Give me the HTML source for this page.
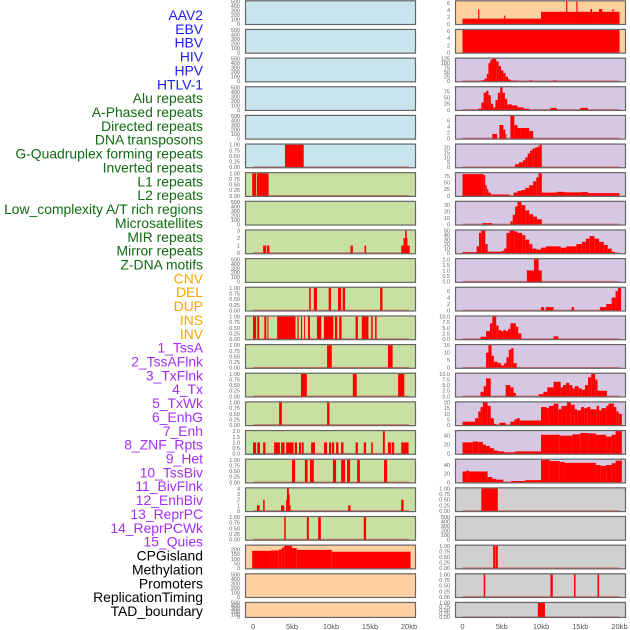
<!DOCTYPE html>
<html><head><meta charset="utf-8"><style>
html,body{margin:0;padding:0;background:#fff;}
svg{display:block;font-family:"Liberation Sans",sans-serif;}
</style></head><body>
<svg id="chart" width="630" height="630" viewBox="0 0 630 630" xmlns="http://www.w3.org/2000/svg">
<g id="labels"></g>
<g id="panels"></g>
<g id="xaxes"></g>
</svg>
<script>
// ---- data ----
const trackNames = ["AAV2","EBV","HBV","HIV","HPV","HTLV-1","Alu repeats","A-Phased repeats","Directed repeats","DNA transposons","G-Quadruplex forming repeats","Inverted repeats","L1 repeats","L2 repeats","Low_complexity A/T rich regions","Microsatellites","MIR repeats","Mirror repeats","Z-DNA motifs","CNV","DEL","DUP","INS","INV","1_TssA","2_TssAFlnk","3_TxFlnk","4_Tx","5_TxWk","6_EnhG","7_Enh","8_ZNF_Rpts","9_Het","10_TssBiv","11_BivFlnk","12_EnhBiv","13_ReprPC","14_ReprPCWk","15_Quies","CPGisland","Methylation","Promoters","ReplicationTiming","TAD_boundary"];
const trackGroups = ["virus","virus","virus","virus","virus","virus","repeat","repeat","repeat","repeat","repeat","repeat","repeat","repeat","repeat","repeat","repeat","repeat","repeat","sv","sv","sv","sv","sv","chrom","chrom","chrom","chrom","chrom","chrom","chrom","chrom","chrom","chrom","chrom","chrom","chrom","chrom","chrom","other","other","other","other","other"];
const xTickValues = [0,5,10,15,20];
const xTickLabels = ["0","5kb","10kb","15kb","20kb"];
const emptyTicks = [0,100,200,300,400,500];
const unitTicks = [0,0.25,0.5,0.75,1];
const unitTickLabels = ["0.00","0.25","0.50","0.75","1.00"];

// segments: [startKb, endKb, value]
const segHTLV = [[4.1,6.5,1]];
const segAlu = [[-0.1,0.4,1],[0.5,2.0,1]];
const segDirected = [[1.3,1.7,1],[1.8,2.1,1],[12.5,12.8,1],[14.3,14.5,1],[19.0,20.1,1],[19.3,19.8,2],[19.5,19.7,3]];
const segGQuad = [[7.2,7.4,1],[7.8,8.2,1],[9.7,10.0,1],[10.9,11.3,1],[11.5,11.8,1],[16.3,16.6,1]];
const segInverted = [[0,0.4,1],[0.55,0.8,1],[1.45,1.7,1],[1.85,1.95,1],[3.1,5.45,1],[5.7,5.85,1],[6.15,6.3,1],[6.55,6.65,1],[7.05,7.3,1],[8.2,8.75,1],[9.1,10.3,1],[10.5,10.8,1],[11.05,11.35,1],[13.15,13.45,1],[13.95,14.8,1],[15.15,15.35,1],[15.65,15.85,1]];
const segL1 = [[9.5,10.1,1],[17.3,17.9,1]];
const segL2 = [[6.15,6.9,1],[12.8,13.3,1],[18.6,19.4,1]];
const segLowAT = [[3.35,3.7,1],[9.5,9.8,1]];
const segMicro = [[0,0.4,1],[0.55,0.9,1],[1.3,1.6,1],[2.7,3.45,1],[3.6,4.05,1],[4.25,5.2,1],[5.35,5.65,1],[5.9,6.15,1],[6.25,6.5,1],[7.45,7.95,1],[9.1,9.5,1],[9.75,10.0,1],[10.1,10.4,1],[10.65,10.95,1],[11.3,11.6,1],[13.15,13.45,1],[14.2,14.5,1],[15.15,15.35,1],[16.65,16.9,2],[17.3,17.7,1],[17.8,18.1,1],[19.0,19.95,1]];
const segMIR = [[5.0,5.4,1],[6.65,7.0,1],[7.3,7.8,1],[10.25,10.65,1],[11.3,11.8,1],[12.05,12.45,1],[13.35,13.7,1],[16.8,17.2,1]];
const segMirror = [[0.5,0.85,1],[1.3,1.5,2],[3.6,4.0,1],[4.25,4.45,2],[4.35,4.6,4],[4.5,4.7,3],[4.7,4.8,1],[12.2,12.5,1],[19.0,19.3,2]];
const segZDNA = [[4.0,4.2,1],[6.9,7.15,1],[8.35,8.7,1],[14.2,14.5,1]];
const segCNV = [[-0.1,2.3,186],[2.3,3.3,190],[3.3,3.7,200],[3.7,4.0,220],[4.0,5.0,240],[5.0,5.6,215],[5.6,10.1,196],[10.1,20.2,176]];
const segINS = [[0,10,1.5],[2.0,2.15,4.2],[5.3,5.45,2.4],[10,20,3.5],[13.2,13.35,6.5],[14.5,14.65,6.5],[16.3,16.5,4.3],[17.4,17.8,4.3],[19.1,19.25,4.3]];
const segINV = [[0,20,6.2]];
const segTssA = [[2.4,2.8,5],[2.8,3.1,15],[3.1,3.3,40],[3.3,3.5,100],[3.5,3.7,115],[3.7,4.3,125],[4.3,4.6,110],[4.6,4.9,85],[4.9,5.2,60],[5.2,5.5,45],[5.5,5.8,25],[5.8,6.1,10],[6.1,7.1,3],[8.5,8.9,4],[11.5,12.0,4]];
const segTssAFlnk = [[2.0,2.4,5],[2.4,2.7,30],[2.7,3.0,70],[3.0,3.3,78],[3.3,3.6,60],[3.6,3.9,25],[3.9,4.2,10],[4.2,4.5,40],[4.5,4.8,70],[4.8,5.1,92],[5.1,5.4,70],[5.4,5.7,45],[5.7,6.3,22],[6.3,7.0,18],[7.0,7.8,10],[7.8,8.5,5],[11.2,12.0,8],[15.0,16.0,8]];
const segTxFlnk = [[3.8,4.4,1.5],[4.7,5.2,4.5],[5.2,5.45,3],[5.45,5.55,1.5],[6.1,6.6,7.5],[6.6,7.0,4.5],[7.0,7.4,3.5],[7.4,8.5,3.5],[8.5,9.0,2.5]];
const segTx = [[6.7,7.2,3],[7.2,7.7,5],[7.7,8.0,7],[8.0,8.3,10],[8.3,8.6,14],[8.6,8.9,17],[8.9,9.2,19],[9.2,9.5,20],[9.5,9.8,21],[9.8,10.1,23]];
const segTxWk = [[0,2.7,82],[2.7,2.9,78],[2.9,3.1,40],[3.1,3.3,25],[3.3,3.6,12],[3.6,6.0,5],[6.5,7.0,12],[7.0,7.5,18],[7.5,8.0,22],[8.0,8.5,30],[8.5,9.0,40],[9.0,9.4,55],[9.4,9.7,70],[9.7,10.1,85],[10.1,12,12],[12,13,15],[13,15,13],[15,16,14],[16,20,10]];
const segEnhG = [[2.5,3.8,2],[6.1,6.4,5],[6.4,6.7,15],[6.7,7.0,28],[7.0,7.5,35],[7.5,8.0,30],[8.0,8.5,22],[8.5,9.0,16],[9.0,9.5,12],[9.5,10.1,8]];
const segEnh = [[0,1.8,2],[1.8,2.1,15],[2.1,2.4,45],[2.4,2.9,50],[2.9,3.2,20],[3.2,5.0,3],[5.0,5.3,5],[5.3,5.6,10],[5.6,6.0,45],[6.0,6.6,50],[6.6,7.0,48],[7.0,7.6,45],[7.6,8.0,40],[8.0,8.5,30],[8.5,8.9,20],[8.9,9.4,10],[9.4,10.0,8],[10.0,10.6,12],[10.6,12.5,15],[12.5,13.2,12],[13.2,14.5,15],[14.5,15.2,20],[15.2,15.7,25],[15.7,16.2,32],[16.2,16.8,38],[16.8,17.4,32],[17.4,18.0,25],[18.0,18.5,18],[18.5,19.0,10],[19.0,19.4,3]];
const segZNF = [[8.2,10.1,1],[9.1,9.7,2]];
const segHet = [[10.0,10.4,1],[10.6,11.6,1],[13.9,14.2,1],[17.5,18.3,1],[18.3,19.0,2],[19.0,19.5,4],[19.5,19.8,6],[19.8,20.2,7]];
const segTssBiv = [[2.3,3.0,1],[3.0,3.5,3.5],[3.5,3.8,7],[3.8,4.3,10],[4.3,4.6,6],[4.6,4.9,4],[4.9,5.2,3.5],[5.2,5.5,4],[5.5,5.8,3.5],[5.8,6.1,4.5],[6.1,6.8,7],[6.8,7.1,5.5],[7.1,7.5,2.5],[11.6,12.2,1.2]];
const segBivFlnk = [[3.0,3.3,10],[3.3,3.7,15],[3.7,4.0,8],[4.0,4.5,4],[4.5,4.9,3],[4.9,5.3,1.5],[5.3,5.6,3],[5.6,5.9,7],[5.9,6.2,12],[6.2,6.5,13],[6.5,6.9,3]];
const segEnhBiv = [[2.3,2.7,2],[2.7,3.0,4.5],[3.0,3.6,8],[5.5,6.1,5],[6.1,6.5,4],[6.5,6.8,1.5],[9.7,10.3,1],[10.3,10.8,2],[10.8,11.6,4],[11.6,12.5,6.5],[12.5,12.8,4],[12.8,13.2,5],[13.2,13.6,6],[13.6,14.0,5],[14.0,14.3,3.5],[14.3,14.8,4.5],[14.8,15.2,3.5],[15.2,15.6,3],[15.6,16.0,5],[16.0,16.4,8.5],[16.4,16.9,10],[16.9,17.2,7.5],[17.2,18.4,2.5]];
const segReprPC = [[0,1.6,3],[1.6,2.0,6],[2.0,2.3,12],[2.3,2.6,16],[2.6,3.2,20],[3.2,3.6,17],[3.6,4.0,6],[4.0,4.3,1],[4.7,5.5,2],[6.1,6.6,3],[6.6,6.9,5],[6.9,7.3,6],[7.3,10.0,4],[10.0,10.7,16],[10.7,11.0,15],[11.0,11.6,17],[11.6,12.2,19],[12.2,12.6,14],[12.6,13.3,17],[13.3,13.8,20],[13.8,14.3,18],[14.3,14.6,14],[14.6,15.1,13],[15.1,15.5,16],[15.5,15.9,15],[15.9,16.3,16],[16.3,17.1,14],[17.1,17.4,17],[17.4,17.7,13],[17.7,18.3,15],[18.3,18.6,17],[18.6,19.3,19],[19.3,19.6,16],[19.6,19.9,12],[19.9,20.3,10]];
const segReprPCWk = [[0,1.3,25],[1.3,2.0,27],[2.0,2.6,26],[2.6,3.0,20],[3.0,3.5,17],[3.5,4.0,12],[4.0,4.5,7],[4.5,5.3,5],[5.3,6.7,3],[6.7,10.0,5],[10.0,12.4,42],[12.4,14.0,40],[14.0,15.0,43],[15.0,16.0,46],[16.0,17.0,45],[17.0,18.3,42],[18.3,19.0,38],[19.0,19.5,42],[19.5,20.3,50]];
const segQuies = [[0,0.5,25],[0.5,0.8,27],[0.8,3.2,25],[3.2,3.8,12],[3.8,4.3,8],[4.3,5.2,6],[5.2,6.2,1],[6.2,8.0,3],[8.0,10.0,5],[10.0,11.1,52],[11.1,12.4,49],[12.4,13.0,47],[13.0,17.0,45],[17.0,17.6,40],[17.6,18.3,38],[18.3,19.0,40],[19.0,19.5,44],[19.5,20.3,50]];
const segCPG = [[2.4,4.5,1]];
const segPromoters = [[3.9,4.15,1],[4.2,4.5,1]];
const segReplication = [[2.7,2.9,1],[11.2,11.5,1],[14.2,14.4,1],[17.2,17.4,1]];
const segTAD = [[9.6,10.5,1]];

const ticksCNV = [0,50,100,150,200];
const ticks0246 = [0,2,4,6];
const ticksDirected = [0,1,2,3];
const ticksMirror = [0,1,2,3,4];
const ticksMicro = [0,0.5,1,1.5,2];
const ticksMicroLabels = ["0.0","0.5","1.0","1.5","2.0"];
const ticksTssA = [0,25,50,75,100,125];
const ticks75 = [0,25,50,75];
const ticks20 = [0,5,10,15,20];
const ticks30 = [0,10,20,30];
const ticks50 = [0,10,20,30,40,50];
const ticks10 = [0,2.5,5,7.5,10];
const ticks10Labels = ["0.0","2.5","5.0","7.5","10.0"];
const ticks15 = [0,5,10,15];
const ticks40 = [0,20,40];

const BLUE="#c8e4ec", GREEN="#c8e0a2", ORANGE="#ffd0a0", PURPLE="#d6c7e2", GRAY="#d0d0d0";
const panels = [
 [0,0,BLUE,null,emptyTicks,null],[0,1,BLUE,null,emptyTicks,null],[0,2,BLUE,null,emptyTicks,null],
 [0,3,BLUE,null,emptyTicks,null],[0,4,BLUE,null,emptyTicks,null],[0,5,BLUE,segHTLV,unitTicks,unitTickLabels],
 [0,6,GREEN,segAlu,unitTicks,unitTickLabels],[0,7,GREEN,null,emptyTicks,null],[0,8,GREEN,segDirected,ticksDirected,null],
 [0,9,GREEN,null,emptyTicks,null],[0,10,GREEN,segGQuad,unitTicks,unitTickLabels],[0,11,GREEN,segInverted,unitTicks,unitTickLabels],
 [0,12,GREEN,segL1,unitTicks,unitTickLabels],[0,13,GREEN,segL2,unitTicks,unitTickLabels],[0,14,GREEN,segLowAT,unitTicks,unitTickLabels],
 [0,15,GREEN,segMicro,ticksMicro,ticksMicroLabels],[0,16,GREEN,segMIR,unitTicks,unitTickLabels],[0,17,GREEN,segMirror,ticksMirror,null],
 [0,18,GREEN,segZDNA,unitTicks,unitTickLabels],[0,19,ORANGE,segCNV,ticksCNV,null],[0,20,ORANGE,null,emptyTicks,null],[0,21,ORANGE,null,emptyTicks,null],
 [1,0,ORANGE,segINS,ticks0246,null],[1,1,ORANGE,segINV,ticks0246,null],
 [1,2,PURPLE,segTssA,ticksTssA,null],[1,3,PURPLE,segTssAFlnk,ticks75,null],[1,4,PURPLE,segTxFlnk,ticks0246,null],
 [1,5,PURPLE,segTx,ticks20,null],[1,6,PURPLE,segTxWk,ticks75,null],[1,7,PURPLE,segEnhG,ticks30,null],
 [1,8,PURPLE,segEnh,ticks50,null],[1,9,PURPLE,segZNF,ticksMicro,ticksMicroLabels],[1,10,PURPLE,segHet,ticks0246,null],
 [1,11,PURPLE,segTssBiv,ticks10,ticks10Labels],[1,12,PURPLE,segBivFlnk,ticks15,null],[1,13,PURPLE,segEnhBiv,ticks10,ticks10Labels],
 [1,14,PURPLE,segReprPC,ticks20,null],[1,15,PURPLE,segReprPCWk,ticks40,null],[1,16,PURPLE,segQuies,ticks40,null],
 [1,17,GRAY,segCPG,unitTicks,unitTickLabels],[1,18,GRAY,null,emptyTicks,null],[1,19,GRAY,segPromoters,unitTicks,unitTickLabels],
 [1,20,GRAY,segReplication,unitTicks,unitTickLabels],[1,21,GRAY,segTAD,unitTicks,unitTickLabels]
];

// ---- drawing ----
const NS="http://www.w3.org/2000/svg";
function mk(tag,attrs,parent){const e=document.createElementNS(NS,tag);for(const k in attrs)e.setAttribute(k,attrs[k]);parent.appendChild(e);return e;}
const colX=[245,455], colW=171, kb0=[253,462.5], kbScale=[7.8,7.85];
function rowTop(r){return r*28.65+0.3;}
function rowH(r){return r===21?16:24.7;}
function xScale(col,kb){return kb0[col]+kb*kbScale[col];}

const groupColor={virus:"#1c1cf2",repeat:"#106b10",sv:"#ffa500",chrom:"#a52ef0",other:"#000"};
const lg=document.getElementById("labels");
trackNames.forEach((n,i)=>{
  const t=mk("text",{x:203,y:15+i*13.86+5,"text-anchor":"end","font-size":"13.9",fill:groupColor[trackGroups[i]]},lg);
  
  
  t.textContent=n;
});

const pg=document.getElementById("panels");
panels.forEach(p=>{
  const [col,row,bg,segs,ticks,tlabels]=p;
  const g=mk("g",{},pg);
  
  
  const x=colX[col], y=rowTop(row), h=rowH(row);
  const bgRect=mk("rect",{x:x,y:y,width:colW,height:h,fill:bg},g);
  
  
  let m=500;
  if(segs){m=0;segs.forEach(s=>{if(s[2]>m)m=s[2];});}
  const lo=-0.05*m, hi=1.05*m;
  const yS=v=>y+h-(v-lo)/(hi-lo)*h;
  if(segs){
    const base=mk("line",{x1:xScale(col,0),x2:xScale(col,20),y1:yS(0),y2:yS(0),stroke:"rgba(210,40,40,0.55)","stroke-width":1.6},g);
    
    
    segs.forEach(s=>{
      const x1=xScale(col,s[0]), x2=xScale(col,s[1]);
      const r=mk("rect",{x:x1,y:yS(s[2]),width:Math.max(1,x2-x1),height:Math.max(0,yS(0)-yS(s[2])),fill:"#ff0000"},g);
      
      
    });
  }
  const border=mk("rect",{x:x+0.5,y:y+0.5,width:colW-1,height:h-1,fill:"none",stroke:"#666","stroke-width":1.2},g);
  
  
  ticks.forEach((tv,k)=>{
    const t=mk("text",{x:x-5,y:yS(tv)+2,"text-anchor":"end","font-size":"5.5",fill:"#666"},g);
    
    
    t.textContent=tlabels?tlabels[k]:String(tv);
  });
});

const xg=document.getElementById("xaxes");
[0,1].forEach(col=>{
  xTickValues.forEach((v,k)=>{
    const t=mk("text",{x:xScale(col,v),y:629,"text-anchor":"middle","font-size":"7.5",fill:"#555"},xg);
    
    
    t.textContent=xTickLabels[k];
  });
});
</script>
</body></html>
